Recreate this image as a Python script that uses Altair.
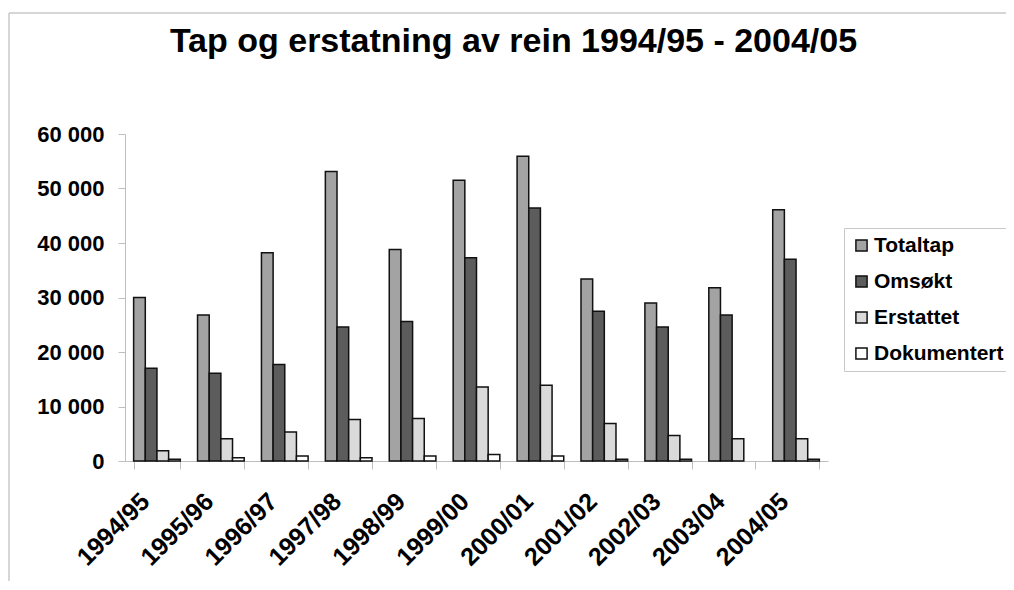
import altair as alt
import pandas as pd

seasons = ["1994/95", "1995/96", "1996/97", "1997/98", "1998/99", "1999/00",
           "2000/01", "2001/02", "2002/03", "2003/04", "2004/05"]
series_names = ["Totaltap", "Omsøkt", "Erstattet", "Dokumentert"]
totaltap = [30000, 26800, 38200, 53100, 38800, 51500, 55900, 33400, 29000, 31800, 46100]
omsokt = [17000, 16100, 17700, 24600, 25600, 37300, 46400, 27500, 24600, 26800, 37000]
erstattet = [1900, 4100, 5300, 7600, 7800, 13600, 13900, 6900, 4700, 4100, 4100]
dokumentert = [300, 600, 900, 600, 900, 1200, 900, 300, 300, 0, 300]
colors = ["#A3A3A3", "#5C5C5C", "#DADADA", "#FFFFFF"]
y_ticks = [0, 10000, 20000, 30000, 40000, 50000, 60000]

rows = []
for name, vals in zip(series_names, [totaltap, omsokt, erstattet, dokumentert]):
    for s, v in zip(seasons, vals):
        rows.append({"Sesong": s, "Serie": name, "Antall": v})
df = pd.DataFrame(rows)

FONT = "Liberation Sans"

bars = alt.Chart(df).transform_filter(
    "datum.Antall > 0"
).mark_bar(stroke="#111111", strokeWidth=1.5).encode(
    x=alt.X("Sesong:N", sort=seasons,
            scale=alt.Scale(paddingInner=0.27, paddingOuter=0.135),
            axis=alt.Axis(title=None, labelAngle=-45, labelAlign="right",
                          labelBaseline="middle", labelFont=FONT,
                          labelFontWeight="bold", labelFontSize=25,
                          labelColor="#000000", labelPadding=28, labelOffset=-12,
                          domainColor="#BFBFBF", tickColor="#BFBFBF",
                          tickSize=8, tickBand="extent", grid=False)),
    xOffset=alt.XOffset("Serie:N", sort=series_names,
                        scale=alt.Scale(paddingInner=0, paddingOuter=0)),
    y=alt.Y("Antall:Q",
            scale=alt.Scale(domain=[0, 60000], nice=False),
            axis=alt.Axis(title=None, values=y_ticks,
                          labelExpr="replace(format(datum.value, ','), ',', ' ')",
                          labelFont=FONT, labelFontWeight="bold",
                          labelFontSize=22, labelColor="#000000",
                          labelPadding=14, domainColor="#BFBFBF",
                          tickColor="#BFBFBF", tickSize=7, grid=False)),
    fill=alt.Fill("Serie:N", sort=series_names,
                  scale=alt.Scale(domain=series_names, range=colors),
                  legend=alt.Legend(title=None, orient="none",
                                    legendX=719, legendY=94,
                                    symbolType="square", symbolSize=125,
                                    symbolStrokeColor="#111111",
                                    symbolStrokeWidth=1.5,
                                    labelFont=FONT, labelFontWeight="bold",
                                    labelFontSize=21, labelColor="#000000",
                                    labelOffset=2, rowPadding=14,
                                    padding=7, strokeColor="#C8C8C8",
                                    fillColor="#FFFFFF", labelLimit=300)),
)

frame_df = pd.DataFrame({"k": [0]})
frame_left = alt.Chart(frame_df).mark_rule(color="#C8C8C8", strokeWidth=1.5).encode(
    x=alt.value(-116), y=alt.value(-121), y2=alt.value(460))
frame_top = alt.Chart(frame_df).mark_rule(color="#C8C8C8", strokeWidth=1.5).encode(
    x=alt.value(-116), x2=alt.value(900), y=alt.value(-121))

chart = alt.layer(frame_left, frame_top, bars).properties(
    width=703, height=327,
    title=alt.TitleParams("Tap og erstatning av rein 1994/95 - 2004/05",
                          font=FONT, fontSize=34, fontWeight="bold",
                          color="#000000", anchor="middle", dx=37,
                          offset=0, dy=47),
    autosize=alt.AutoSizeParams(type="none"),
    padding={"left": 117, "top": 126, "right": 178, "bottom": 120},
).configure_view(stroke=None)

chart.save("out.html", embed_options={"renderer": "svg", "actions": False})
